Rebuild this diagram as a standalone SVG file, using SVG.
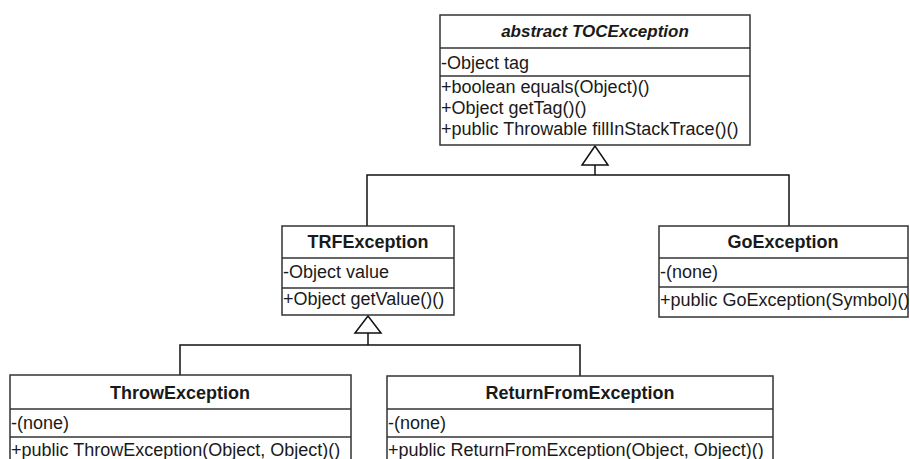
<svg xmlns="http://www.w3.org/2000/svg" width="910" height="459" viewBox="0 0 910 459">
<style>
.box{fill:#fff;stroke:#333;stroke-width:1.5}
.sep{stroke:#333;stroke-width:1.5}
.conn{fill:none;stroke:#111;stroke-width:1.5}
.tri{fill:#fff;stroke:#111;stroke-width:1.5}
text{font-family:"Liberation Sans",Arial,sans-serif;font-size:18px;fill:#1a1a1a}
.t{font-weight:bold;text-anchor:middle}
.ti{font-weight:bold;font-style:italic;text-anchor:middle;font-size:17px}
</style>
<rect width="910" height="459" fill="#fff"/>
<g id="connectors">
<path class="conn" d="M595,165 V175 M367,226 V175 H789 V226"/>
<polygon class="tri" points="595,146 582,165 608,165"/>
<path class="conn" d="M368,333 V345 M180,375 V345 H580 V376"/>
<polygon class="tri" points="368,316 355,333 381,333"/>
</g>
<g id="TOCException">
<rect class="box" x="440" y="15" width="310" height="130"/>
<line class="sep" x1="440" y1="48" x2="750" y2="48"/>
<line class="sep" x1="440" y1="76" x2="750" y2="76"/>
<text class="ti" x="595" y="37">abstract TOCException</text>
<text x="441" y="69">-Object tag</text>
<text x="441" y="93">+boolean equals(Object)()</text>
<text x="441" y="114">+Object getTag()()</text>
<text x="441" y="135">+public Throwable fillInStackTrace()()</text>
</g>
<g id="TRFException">
<rect class="box" x="282" y="226" width="172" height="89"/>
<line class="sep" x1="282" y1="258" x2="454" y2="258"/>
<line class="sep" x1="282" y1="288" x2="454" y2="288"/>
<text class="t" x="368" y="248">TRFException</text>
<text x="283" y="278">-Object value</text>
<text x="283" y="305">+Object getValue()()</text>
</g>
<g id="GoException">
<rect class="box" x="659" y="226" width="249" height="91"/>
<line class="sep" x1="659" y1="258" x2="908" y2="258"/>
<line class="sep" x1="659" y1="287" x2="908" y2="287"/>
<text class="t" x="783" y="248">GoException</text>
<text x="660" y="278">-(none)</text>
<text x="660" y="306">+public GoException(Symbol)()</text>
</g>
<g id="ThrowException">
<rect class="box" x="10" y="375" width="341" height="100"/>
<line class="sep" x1="10" y1="409" x2="351" y2="409"/>
<line class="sep" x1="10" y1="437" x2="351" y2="437"/>
<text class="t" x="180" y="399">ThrowException</text>
<text x="11" y="429">-(none)</text>
<text x="11" y="456">+public ThrowException(Object, Object)()</text>
</g>
<g id="ReturnFromException">
<rect class="box" x="387" y="376" width="386" height="100"/>
<line class="sep" x1="387" y1="409" x2="773" y2="409"/>
<line class="sep" x1="387" y1="437" x2="773" y2="437"/>
<text class="t" x="580" y="399">ReturnFromException</text>
<text x="388" y="429">-(none)</text>
<text x="388" y="456">+public ReturnFromException(Object, Object)()</text>
</g>
</svg>
